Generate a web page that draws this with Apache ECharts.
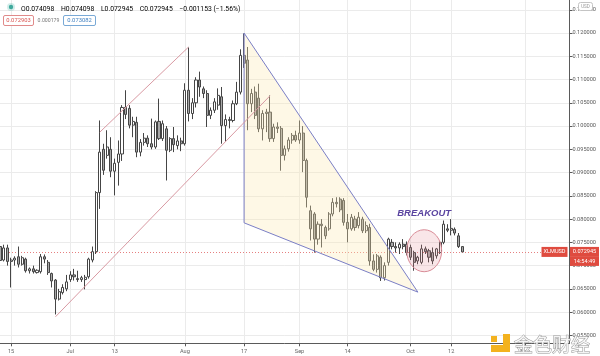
<!DOCTYPE html>
<html>
<head>
<meta charset="utf-8">
<script src="https://cdn.jsdelivr.net/npm/echarts@6/dist/echarts.min.js"></script>
<style>html,body{margin:0;padding:0;background:#ffffff}#c{width:600px;height:356px}</style>
</head>
<body>
<div id="c"></div>
<script>
// ---------------- DATA ----------------
const firstDay = '2020-06-12';
const dayCount = 155;            // calendar days on the category axis (Jun 12 .. Nov 13)

const opens = [
0.0741,0.0712,0.0738,0.0709,0.0712,0.0719,0.0703,0.0714,0.0689,0.0693,
0.0685,0.0687,0.0719,0.0707,0.0683,0.0669,0.0628,0.0642,0.0650,0.0670,
0.0680,0.0672,0.0670,0.0670,0.0676,0.0712,0.0730,0.0857,0.0950,0.0937,
0.0950,0.0903,0.0922,0.0940,0.1040,0.1038,0.1002,0.1008,0.0944,0.0965,
0.0974,0.0962,0.0955,0.1010,0.0973,0.0994,0.0948,0.0973,0.0958,0.0968,
0.0962,0.1077,0.1027,0.1050,0.1099,0.1080,0.1070,0.1023,0.1034,0.1045,
0.1063,0.1001,0.1014,0.1012,0.1048,0.1073,0.1152,0.1142,0.1048,0.1073,
0.1060,0.0994,0.1027,0.1030,0.0973,0.0998,0.0995,0.0937,0.0951,0.0970,
0.0980,0.0970,0.0985,0.0926,0.0818,0.0811,0.0757,0.0789,0.0782,0.0779,
0.0811,0.0836,0.0843,0.0840,0.0793,0.0779,0.0800,0.0786,0.0800,0.0775,
0.0782,0.0710,0.0692,0.0718,0.0674,0.0707,0.0750,0.0741,0.0738,0.0746,
0.0746,0.0739,0.0728,0.0710,0.0707,0.0736,0.0732,0.0728,0.0721,0.0728,
0.0750,0.0779,0.0776,0.0778,0.0764,0.074098];
const highs = [
0.0745,0.0745,0.0745,0.0717,0.0720,0.0741,0.0721,0.0717,0.0696,0.0700,
0.0692,0.0725,0.0724,0.0712,0.0685,0.0671,0.0650,0.0660,0.0680,0.0688,
0.0693,0.0689,0.0678,0.0680,0.0717,0.0741,0.0860,0.1012,0.0962,0.0991,
0.0976,0.0930,0.0969,0.1045,0.1077,0.1045,0.1020,0.1020,0.0972,0.0985,
0.0980,0.1016,0.1012,0.1059,0.1012,0.1000,0.0976,0.0998,0.0980,0.0975,
0.1092,0.1169,0.1060,0.1105,0.1117,0.1085,0.1077,0.1040,0.1060,0.1081,
0.1084,0.1025,0.1020,0.1055,0.1095,0.1165,0.1199,0.1170,0.1080,0.1085,
0.1091,0.1034,0.1037,0.1066,0.1005,0.1008,0.1000,0.0958,0.0976,0.0985,
0.0990,0.1012,0.1000,0.0930,0.0829,0.0815,0.0795,0.0800,0.0786,0.0815,
0.0845,0.0847,0.0847,0.0845,0.0811,0.0811,0.0807,0.0815,0.0805,0.0795,
0.0790,0.0724,0.0725,0.0722,0.0707,0.0760,0.0757,0.0750,0.0750,0.0757,
0.0752,0.0745,0.0732,0.0721,0.0745,0.0741,0.0736,0.0739,0.0738,0.0752,
0.0797,0.0789,0.0800,0.0782,0.0770,0.074098];
const lows = [
0.0705,0.0709,0.0700,0.0653,0.0700,0.0696,0.0700,0.0685,0.0683,0.0683,
0.0683,0.0683,0.0705,0.0680,0.0653,0.0595,0.0625,0.0638,0.0645,0.0665,
0.0668,0.0665,0.0665,0.0649,0.0672,0.0707,0.0725,0.0822,0.0895,0.0930,
0.0890,0.0851,0.0872,0.0925,0.1015,0.0995,0.0976,0.0933,0.0935,0.0958,
0.0955,0.0950,0.0951,0.0970,0.0968,0.0883,0.0944,0.0944,0.0950,0.0946,
0.0958,0.1010,0.1015,0.1040,0.1063,0.1060,0.0998,0.1015,0.1028,0.1035,
0.0962,0.0966,0.0995,0.1008,0.1045,0.1068,0.1125,0.0991,0.1030,0.1015,
0.0987,0.0969,0.0987,0.0966,0.0966,0.0985,0.0904,0.0926,0.0945,0.0962,
0.0966,0.0962,0.0901,0.0825,0.0754,0.0728,0.0745,0.0739,0.0757,0.0775,
0.0806,0.0825,0.0815,0.0786,0.0750,0.0775,0.0775,0.0780,0.0770,0.0770,
0.0700,0.0688,0.0685,0.0667,0.0668,0.0700,0.0735,0.0728,0.0725,0.0735,
0.0722,0.0712,0.0689,0.0703,0.0703,0.0725,0.0707,0.0703,0.0715,0.0725,
0.0746,0.0772,0.0765,0.0765,0.0738,0.072945];
const closes = [
0.0711,0.0738,0.0709,0.0712,0.0716,0.0703,0.0717,0.0689,0.0693,0.0687,
0.0690,0.0719,0.0714,0.0685,0.0667,0.0628,0.0644,0.0653,0.0665,0.0680,
0.0676,0.0670,0.0674,0.0675,0.0714,0.0730,0.0857,0.0944,0.0905,0.0955,
0.0903,0.0920,0.0940,0.1040,0.1025,0.1002,0.1010,0.0944,0.0965,0.0974,
0.0962,0.0955,0.1009,0.0973,0.1005,0.0948,0.0973,0.0960,0.0968,0.0962,
0.1077,0.1027,0.1050,0.1099,0.1084,0.1070,0.1023,0.1034,0.1052,0.1066,
0.1001,0.1014,0.1012,0.1048,0.1073,0.1152,0.1135,0.1048,0.1070,0.1023,
0.0994,0.1027,0.1030,0.0973,0.0998,0.0995,0.0937,0.0951,0.0970,0.0980,
0.0970,0.0985,0.0926,0.0847,0.0779,0.0757,0.0789,0.0786,0.0764,0.0811,
0.0836,0.0833,0.0820,0.0793,0.0779,0.0804,0.0782,0.0804,0.0775,0.0786,
0.0710,0.0692,0.0721,0.0674,0.0700,0.0757,0.0741,0.0738,0.0746,0.0741,
0.0728,0.0718,0.0707,0.0718,0.0736,0.0730,0.0718,0.0710,0.0736,0.0750,
0.0789,0.0776,0.0780,0.0770,0.0741,0.072945];

// time-axis tick labels
const xTickDates  = ['2020-06-15','2020-07-01','2020-07-13','2020-08-01','2020-08-17','2020-09-01','2020-09-14','2020-10-01','2020-10-12','2020-11-01'];
const xTickLabels = ['15','Jul','13','Aug','17','Sep','14','Oct','12','Nov'];
// price-axis ticks
const yTicks = [0.055,0.060,0.065,0.070,0.075,0.080,0.085,0.090,0.095,0.100,0.105,0.110,0.115,0.120,0.125];

// drawing anchors [day index, price]
const wedgeApex  = [66, 0.1200];
const wedgeBase  = [66, 0.0792];
const wedgeTip   = [113, 0.0643];
const channelLower = [[15, 0.0590], [73, 0.1065]];
const channelUpper = [[27, 0.0987], [51, 0.1170]];
const breakoutZone = [114.7, 0.0732];
const breakoutLabel = [114.7, 0.0813];
const bidAsk = ['0.072903', '0.000179', '0.073082'];

// ---------------- BUILD ----------------
const dates = [];
(function () {
  const t0 = Date.parse(firstDay + 'T00:00:00Z');
  for (let i = 0; i < dayCount; i++) dates.push(new Date(t0 + i * 86400000).toISOString().slice(0, 10));
})();
const tickSet = new Set(xTickDates);
const tickText = {};
xTickDates.forEach((d, i) => { tickText[d] = xTickLabels[i]; });
const candles = opens.map((o, i) => [o, closes[i], lows[i], highs[i]]);
const last = opens.length - 1;
const lastClose = closes[last];
const chg = closes[last] - opens[last];
const pct = chg / opens[last] * 100;

const FONT = 'Roboto, "Noto Sans", sans-serif';
const headerRich = {
  k: { color: '#7a7a7a', fontSize: 6.8, fontFamily: FONT },
  v: { color: '#4a4a4a', fontSize: 6.8, fontFamily: FONT }
};
const headerText =
  '{k|O}{v|' + opens[last].toFixed(6) + '}  {k|H}{v|' + highs[last].toFixed(6) + '}  {k|L}{v|' + lows[last].toFixed(6) +
  '}  {k|C}{v|' + closes[last].toFixed(6) + '}  {v|' + (chg < 0 ? '\u2212' : '') + Math.abs(chg).toFixed(6) +
  ' (' + (pct < 0 ? '\u2212' : '') + Math.abs(pct).toFixed(2) + '%)}';

const chart = echarts.init(document.getElementById('c'), null, { renderer: 'canvas', width: 600, height: 356 });

const option = {
  animation: false,
  backgroundColor: '#ffffff',
  grid: { left: 0, right: 30.5, top: 0, bottom: 12.7, containLabel: false },
  xAxis: {
    type: 'category',
    data: dates,
    boundaryGap: false,
    axisLine: { show: true, lineStyle: { color: '#5a5a5a', width: 1 } },
    axisTick: { show: true, length: 3, interval: (i, v) => tickSet.has(v), lineStyle: { color: '#5a5a5a' } },
    axisLabel: {
      interval: (i, v) => tickSet.has(v),
      formatter: v => tickText[v] || '',
      fontSize: 5.6, color: '#666666', fontFamily: FONT, margin: 5
    },
    splitLine: { show: true, interval: (i, v) => tickSet.has(v), lineStyle: { color: '#ebebeb', width: 1 } }
  },
  yAxis: {
    type: 'value',
    position: 'right',
    min: 0.0533,
    max: 0.1271,
    axisLine: { show: true, lineStyle: { color: '#5a5a5a', width: 1 } },
    axisTick: { show: true, length: 3, customValues: yTicks, lineStyle: { color: '#5a5a5a' } },
    axisLabel: { customValues: yTicks, formatter: v => v.toFixed(6), fontSize: 5.6, color: '#5a5a5a', fontFamily: FONT, margin: 3 },
    splitLine: { show: true, lineStyle: { color: '#ebebeb', width: 1 } }
  },
  series: [
    {
      type: 'custom',
      silent: true,
      clip: false,
      z: 1,
      data: [[0, lastClose]],
      renderItem: function (params, api) {
        const cs = params.coordSys;
        const py = Math.round(api.coord([0, lastClose])[1]) + 0.5;
        return { type: 'line', shape: { x1: cs.x, y1: py, x2: cs.x + cs.width - 28, y2: py },
                 style: { stroke: '#e58080', lineWidth: 1, lineDash: [1, 2] } };
      }
    },
    {
      type: 'candlestick',
      data: candles,
      barWidth: 2.6,
      z: 2,
      itemStyle: { color: '#ffffff', color0: '#a8a8a8', borderColor: '#454545', borderColor0: '#454545', borderWidth: 1 }
    },
    {
      type: 'custom',
      silent: true,
      clip: false,
      z: 5,
      data: [[0, lastClose]],
      renderItem: function (params, api) {
        const cs = params.coordSys;
        const at = p => {
          const f = Math.floor(p[0]), t = p[0] - f;
          const a = api.coord([f, p[1]]);
          if (!t) return a;
          const b = api.coord([f + 1, p[1]]);
          return [a[0] + (b[0] - a[0]) * t, a[1]];
        };
        const A = at(wedgeApex), B = at(wedgeTip), C = at(wedgeBase);
        const blue = '#7b7fc6', pink = '#d99aa3', red = '#df4b3f';
        const right = cs.x + cs.width;
        const py = api.coord([0, lastClose])[1];
        const ctr = at(breakoutZone), lbl = at(breakoutLabel);
        const kids = [
          { type: 'polygon', shape: { points: [A, B, C] }, style: { fill: 'rgba(252,232,178,0.32)', stroke: null } },
          { type: 'polyline', shape: { points: [C, A, B] }, style: { stroke: blue, lineWidth: 1, fill: null } },
          { type: 'line', shape: { x1: C[0], y1: C[1], x2: B[0], y2: B[1] }, style: { stroke: blue, lineWidth: 1 } },
          { type: 'polyline', shape: { points: channelLower.map(at) }, style: { stroke: pink, lineWidth: 1, fill: null } },
          { type: 'polyline', shape: { points: channelUpper.map(at) }, style: { stroke: pink, lineWidth: 1, fill: null } },
          { type: 'ellipse', shape: { cx: ctr[0], cy: ctr[1], rx: 17.5, ry: 21 }, style: { fill: 'rgba(224,130,142,0.2)', stroke: '#d98c97', lineWidth: 1 } },
          { type: 'text', style: { text: 'BREAKOUT', x: lbl[0], y: lbl[1], align: 'center', verticalAlign: 'middle', fill: '#5a44a0',
              fontStyle: 'italic', fontWeight: 'bold', fontSize: 9.5, fontFamily: '"Liberation Sans Narrow", "Liberation Sans", Arial, sans-serif' } },
          // last price tags
          { type: 'rect', shape: { x: right - 28, y: py - 5, width: 26, height: 10 }, style: { fill: red } },
          { type: 'text', style: { text: 'XLMUSD', x: right - 15, y: py, align: 'center', verticalAlign: 'middle', fill: '#ffffff', fontSize: 5.6, fontFamily: FONT } },
          { type: 'rect', shape: { x: right + 0.5, y: py - 5, width: 29, height: 10 }, style: { fill: red } },
          { type: 'text', style: { text: lastClose.toFixed(6), x: right + 15, y: py, align: 'center', verticalAlign: 'middle', fill: '#ffffff', fontSize: 5.6, fontFamily: FONT } },
          { type: 'rect', shape: { x: right + 0.5, y: py + 5, width: 29, height: 9 }, style: { fill: red } },
          { type: 'text', style: { text: '14:54:49', x: right + 15, y: py + 9.5, align: 'center', verticalAlign: 'middle', fill: '#ffffff', fontSize: 5.6, fontFamily: FONT } }
        ];
        return { type: 'group', children: kids };
      }
    }
  ],
  graphic: {
    elements: [
      { type: 'circle', shape: { cx: 11, cy: 7, r: 4 }, style: { fill: 'rgba(77,182,172,0.25)' }, z: 20 },
      { type: 'circle', shape: { cx: 11, cy: 7, r: 2.2 }, style: { fill: '#3fa99c' }, z: 21 },
      { type: 'text', left: 21, top: 3, style: { rich: headerRich, text: headerText }, z: 20 },
      { type: 'rect', shape: { x: 3.5, y: 15.5, width: 30, height: 10, r: 1.5 }, style: { fill: '#ffffff', stroke: '#e08a8a', lineWidth: 1 }, z: 20 },
      { type: 'text', style: { text: bidAsk[0], x: 18.5, y: 20.5, align: 'center', verticalAlign: 'middle', fill: '#d9534f', fontSize: 5.8, fontFamily: FONT }, z: 21 },
      { type: 'text', style: { text: bidAsk[1], x: 48.5, y: 20.5, align: 'center', verticalAlign: 'middle', fill: '#777777', fontSize: 5.2, fontFamily: FONT }, z: 21 },
      { type: 'rect', shape: { x: 63.5, y: 15.5, width: 32, height: 10, r: 1.5 }, style: { fill: '#ffffff', stroke: '#79a9d6', lineWidth: 1 }, z: 20 },
      { type: 'text', style: { text: bidAsk[2], x: 79.5, y: 20.5, align: 'center', verticalAlign: 'middle', fill: '#3f7fc0', fontSize: 5.8, fontFamily: FONT }, z: 21 },
      // USD badge
      { type: 'rect', shape: { x: 578.5, y: 2.5, width: 14, height: 8, r: 2 }, style: { fill: '#ffffff', stroke: '#c4c4c4', lineWidth: 1 }, z: 30 },
      { type: 'text', style: { text: 'USD', x: 585.5, y: 6.7, align: 'center', verticalAlign: 'middle', fill: '#9a9a9a', fontSize: 4.6, fontFamily: FONT }, z: 31 },
      // watermark
      { type: 'rect', shape: { x: 503, y: 334, width: 7, height: 18 }, style: { fill: '#f3b21f' }, z: 40 },
      { type: 'rect', shape: { x: 491, y: 345, width: 19, height: 7 }, style: { fill: '#f3b21f' }, z: 40 },
      { type: 'rect', shape: { x: 491, y: 336, width: 6, height: 6 }, style: { fill: '#f3b21f' }, z: 40 },
      { type: 'text', style: { text: '金色财经', x: 514, y: 345, align: 'left', verticalAlign: 'middle', fill: 'rgba(255,255,255,0.85)',
          stroke: '#9c9c9c', lineWidth: 1, fontSize: 19, fontFamily: '"Noto Sans CJK SC", sans-serif' }, z: 40 }
    ]
  }
};
chart.setOption(option);
</script>
</body>
</html>
